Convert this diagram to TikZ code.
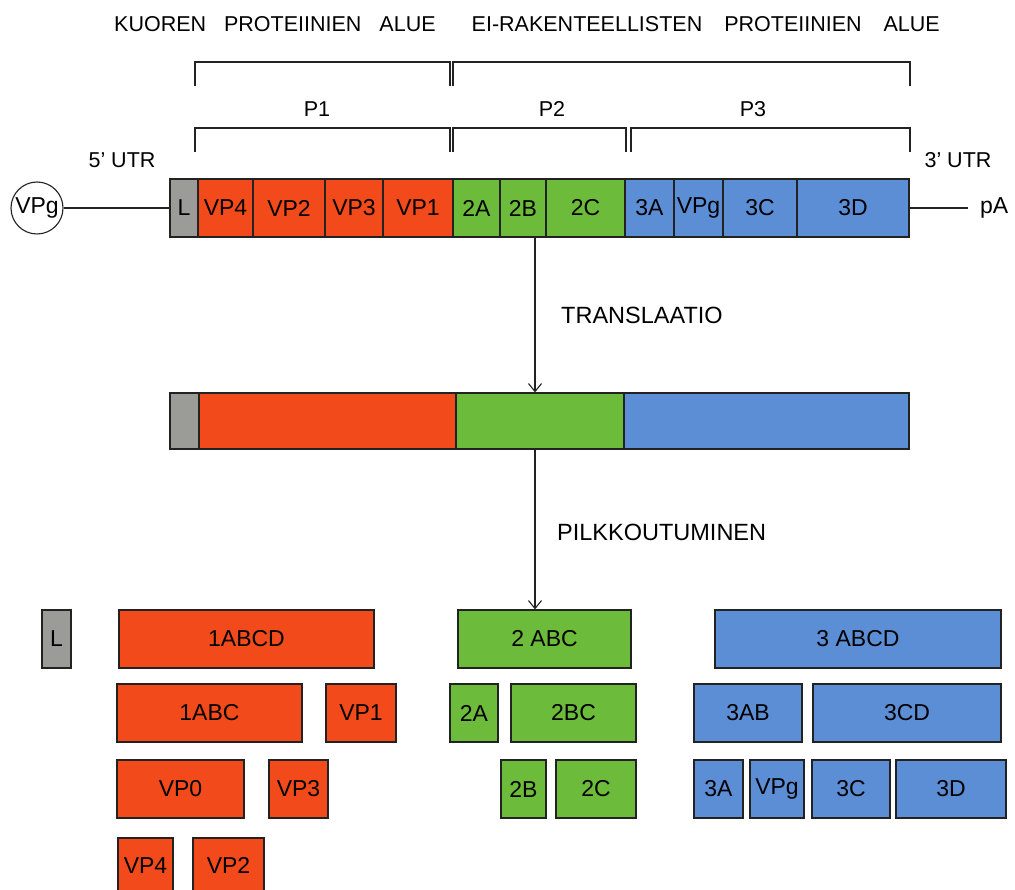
\documentclass[tikz,border=0pt]{standalone}
\usepackage{fontspec}
\setmainfont{Liberation Sans}
\usetikzlibrary{arrows.meta}

\definecolor{coatred}{HTML}{F24A1A}
\definecolor{nsgreen}{HTML}{6DBB3A}
\definecolor{nsblue}{HTML}{5C8ED6}
\definecolor{leadgray}{HTML}{9B9B98}
\definecolor{edge}{HTML}{222222}

% segment box: name, x1, y1, x2, y2, fill, label (y grows downward)
\newcommand\seg[7]{%
  \node[segbox, fill=#6, minimum width={(#4-#2)*1pt}, minimum height={(#5-#3)*1pt}]
    (#1) at ({(#2+#4)/2},{(#3+#5)/2}) {#7};}

\begin{document}
\begin{tikzpicture}[x=1pt, y=-1pt,
  segbox/.style={draw=edge, line width=1.2pt, rectangle, inner sep=0pt,
    font=\fontsize{23}{27}\selectfont},
  lbl/.style={inner sep=0pt, font=\fontsize{21.5}{25}\selectfont},
  biglbl/.style={inner sep=0pt, font=\fontsize{23.5}{28}\selectfont},
  bracket/.style={draw=edge, line width=1.1pt},
  link/.style={draw=edge, line width=1.1pt},
  arr/.style={draw=edge, line width=1.1pt, -{Straight Barb[length=8pt, width=13pt, line width=1.1pt]}}]
\clip (0,0) rectangle (1015,890);
\fill[white] (0,0) rectangle (1015,890);

% region headings
\node[lbl, anchor=west] (hcoat) at (114,24) {KUOREN\hspace{12pt} PROTEIINIEN\hspace{12pt} ALUE};
\node[lbl, anchor=east] (hns) at (940,24) {EI-RAKENTEELLISTEN\hspace{16pt} PROTEIINIEN\hspace{16pt} ALUE};

% upper brackets
\draw[bracket] (195,86) -- (195,62) -- (450,62) -- (450,86);
\draw[bracket] (453,86) -- (453,62) -- (910,62) -- (910,86);

% polyprotein region labels
\node[lbl] (p1) at (317,109) {P1};
\node[lbl] (p2) at (552,109) {P2};
\node[lbl] (p3) at (753,109) {P3};

% lower brackets
\draw[bracket] (195,152) -- (195,128) -- (450,128) -- (450,152);
\draw[bracket] (453,152) -- (453,128) -- (626,128) -- (626,152);
\draw[bracket] (631,152) -- (631,128) -- (910,128) -- (910,152);

\node[lbl] (utr5) at (122,160) {5’ UTR};
\node[lbl] (utr3) at (958,160) {3’ UTR};

% genome
\seg{gL}{170}{179}{198}{237}{leadgray}{L}
\seg{gVP4}{198}{179}{253}{237}{coatred}{VP4}
\seg{gVP2}{253}{179}{325}{237}{coatred}{VP2}
\seg{gVP3}{325}{179}{383}{237}{coatred}{VP3}
\seg{gVP1}{383}{179}{453}{237}{coatred}{VP1}
\seg{g2A}{453}{179}{500}{237}{nsgreen}{2A}
\seg{g2B}{500}{179}{546}{237}{nsgreen}{2B}
\seg{g2C}{546}{179}{625}{237}{nsgreen}{2C}
\seg{g3A}{625}{179}{674}{237}{nsblue}{3A}
\seg{gVPg}{674}{179}{723}{237}{nsblue}{VPg}
\seg{g3C}{723}{179}{797}{237}{nsblue}{3C}
\seg{g3D}{797}{179}{909}{237}{nsblue}{3D}

\node[draw=edge, line width=1.1pt, circle, minimum size=52pt, inner sep=0pt,
  font=\fontsize{23}{27}\selectfont] (vpg) at (37,208) {VPg};
\draw[link] (vpg.east) -- (gL.west);

\node[lbl, font=\fontsize{23}{27}\selectfont, anchor=west] (pa) at (980,208) {pA};
\coordinate (paend) at (968,208);
\draw[link] (g3D.east) -- (paend);

% translation
\coordinate (ax) at (535,0);
\node[biglbl, anchor=west] (trl) at (561,315) {TRANSLAATIO};

% polyprotein
\seg{mL}{170}{393}{199}{449}{leadgray}{}
\seg{mP1}{199}{393}{456}{449}{coatred}{}
\seg{mP2}{456}{393}{624}{449}{nsgreen}{}
\seg{mP3}{624}{393}{909}{449}{nsblue}{}

\draw[arr] (g2B.south -| ax) -- (mP2.north -| ax);

\node[biglbl, anchor=west] (clv) at (557,532) {PILKKOUTUMINEN};

% cleavage products
\seg{bL}{42}{610}{71}{668}{leadgray}{L}
\seg{b1ABCD}{119}{610}{374}{668}{coatred}{1ABCD}
\seg{b1ABC}{117}{684}{302}{742}{coatred}{1ABC}
\seg{bVP1}{326}{684}{396}{742}{coatred}{VP1}
\seg{bVP0}{117}{760}{244}{818}{coatred}{VP0}
\seg{bVP3}{269}{760}{328}{818}{coatred}{VP3}
\seg{bVP4}{118}{838}{173}{896}{coatred}{\raisebox{3pt}{VP4}}
\seg{bVP2}{193}{838}{264}{896}{coatred}{\raisebox{3pt}{VP2}}

\seg{b2ABC}{458}{610}{631}{668}{nsgreen}{2 ABC}
\seg{b2A}{450}{684}{498}{742}{nsgreen}{2A}
\seg{b2BC}{511}{684}{636}{742}{nsgreen}{2BC}
\seg{b2B}{501}{760}{546}{818}{nsgreen}{2B}
\seg{b2C}{556}{760}{636}{818}{nsgreen}{2C}

\seg{b3ABCD}{715}{610}{1001}{668}{nsblue}{3 ABCD}
\seg{b3AB}{694}{684}{802}{742}{nsblue}{3AB}
\seg{b3CD}{813}{684}{1001}{742}{nsblue}{3CD}
\seg{b3A}{694}{760}{743}{818}{nsblue}{3A}
\seg{bVPg}{750}{760}{804}{818}{nsblue}{VPg}
\seg{b3C}{812}{760}{890}{818}{nsblue}{3C}
\seg{b3D}{896}{760}{1006}{818}{nsblue}{3D}

\draw[arr] (mP2.south -| ax) -- (b2ABC.north -| ax);
\end{tikzpicture}
\end{document}
